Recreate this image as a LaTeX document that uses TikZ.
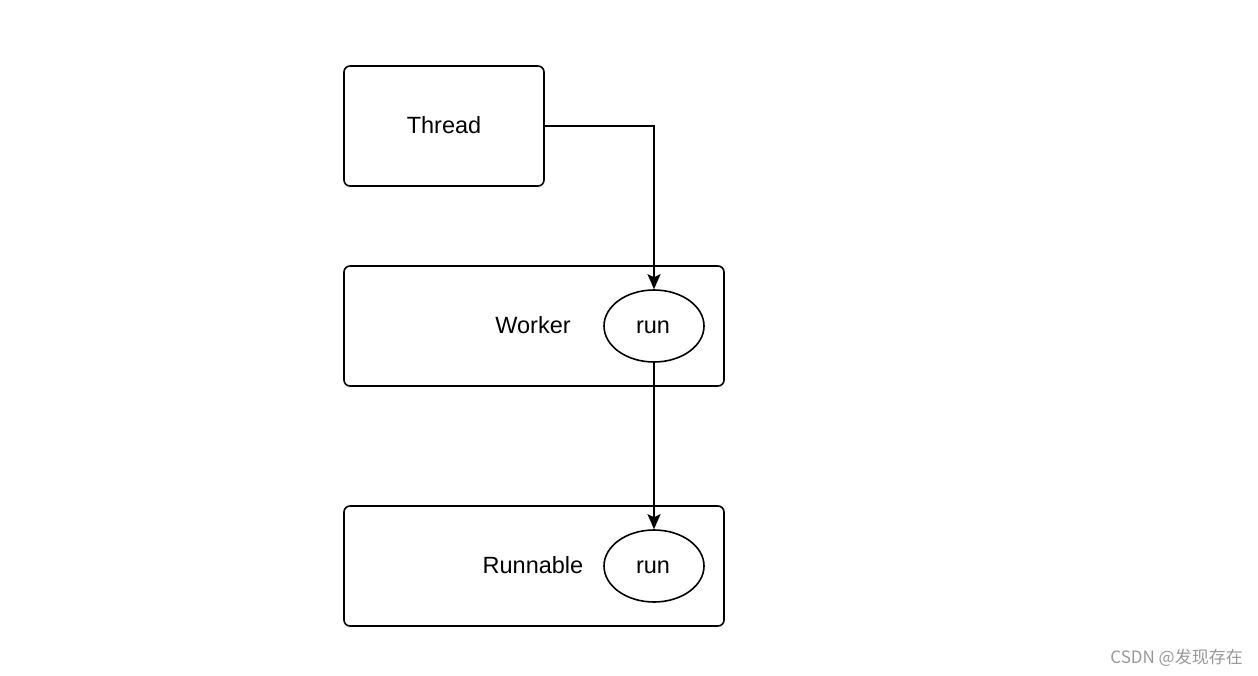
\documentclass[tikz,border=0pt]{standalone}
\usepackage{fontspec}
\setmainfont{Liberation Sans}
\newfontfamily\cjk{Noto Sans CJK SC}
\usetikzlibrary{shapes.geometric,arrows.meta}
\begin{document}
\begin{tikzpicture}[x=1pt,y=-1pt,
  box/.style={draw,line width=1.6pt,rounded corners=6pt},
  oval/.style={draw,line width=1.6pt,ellipse,minimum width=100pt,minimum height=72pt,inner sep=0pt},
  lbl/.style={font=\fontsize{23.5}{27}\selectfont,inner sep=0pt,anchor=base},
  conn/.style={line width=1.6pt,-{Stealth[length=15pt,width=13pt,inset=3pt]}}]
\useasboundingbox (0,0) rectangle (1258,676);
\draw[box] (344,66) rectangle (544,186);
\node[lbl] (thread) at (444,133.5) {Thread};
\coordinate (tr) at (544,126);
\draw[box] (344,266) rectangle (724,386);
\node[lbl] (worker) at (533,333.5) {Worker};
\node[oval] (run1) at (654,326) {};
\node[lbl] (run1t) at (653,333.5) {run};
\draw[box] (344,506) rectangle (724,626);
\node[lbl] (runnable) at (533,573.5) {Runnable};
\node[oval] (run2) at (654,566) {};
\node[lbl] (run2t) at (653,573.5) {run};
\draw[conn] (tr) -| (run1.north);
\draw[conn] (run1.south) -- (run2.north);
\node[anchor=east,text=black!40,font=\cjk\fontsize{17}{20}\selectfont,inner sep=0pt] (wm) at (1243,658) {CSDN @发现存在};
\end{tikzpicture}
\end{document}
